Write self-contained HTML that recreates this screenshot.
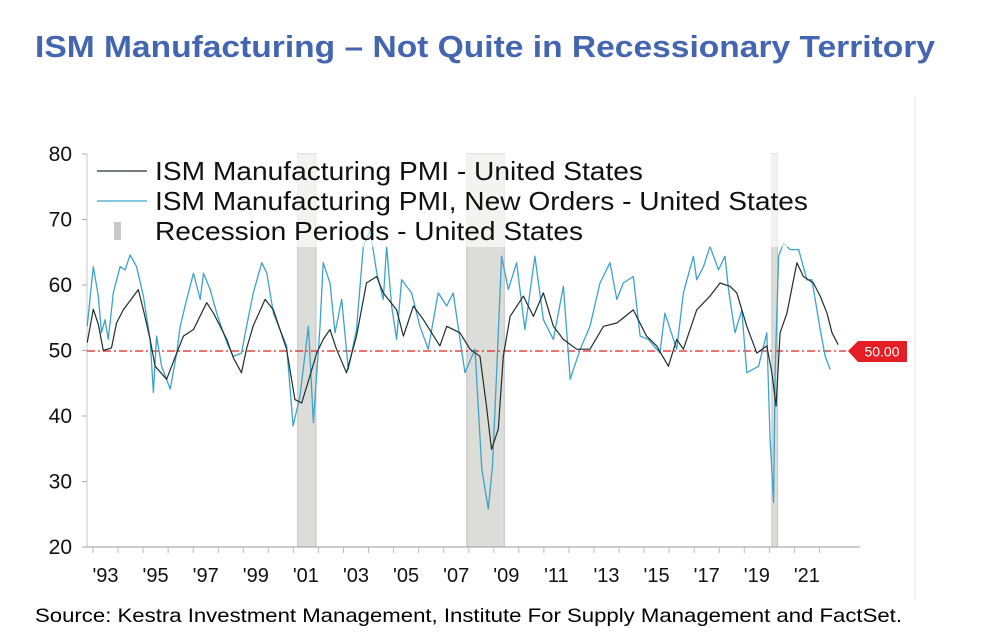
<!DOCTYPE html>
<html><head><meta charset="utf-8"><style>
body{margin:0;background:#fff;}
svg{display:block;font-family:"Liberation Sans",Arial,sans-serif;}
</style></head><body>
<svg id="chart" width="992" height="634" viewBox="0 0 992 634" xmlns="http://www.w3.org/2000/svg">
<text x="35" y="57" font-family="'Liberation Sans Narrow','Liberation Sans',sans-serif" font-weight="bold" font-size="31" fill="#4466b0" textLength="900" lengthAdjust="spacingAndGlyphs">ISM Manufacturing – Not Quite in Recessionary Territory</text>
<line x1="915" y1="96" x2="915" y2="600" stroke="#e6e6e6" stroke-width="1"/>
<g id="bands"></g>
<g id="axes"></g>
<line x1="87" y1="351" x2="846" y2="351" stroke="#e02020" stroke-width="1.2" stroke-dasharray="8,3,2,3"/>
<g id="series"></g>
<g>
<polygon points="848,351 858,341 907,341 907,362 858,362" fill="#e31e24"/>
<text x="882" y="356.5" font-size="14" fill="#fff" text-anchor="middle" font-family="'Liberation Sans',sans-serif">50.00</text>
</g>
<g>
<rect x="92" y="154" width="720" height="93" fill="#fff" opacity="0.65"/>
<line x1="97" y1="171" x2="147" y2="171" stroke="#1f2f2f" stroke-width="1.3"/>
<text x="155" y="180" font-size="26" fill="#111" textLength="488" lengthAdjust="spacingAndGlyphs">ISM Manufacturing PMI - United States</text>
<line x1="97" y1="201" x2="147" y2="201" stroke="#3ea3c8" stroke-width="1.3"/>
<text x="155" y="210" font-size="26" fill="#111" textLength="653" lengthAdjust="spacingAndGlyphs">ISM Manufacturing PMI, New Orders - United States</text>
<rect x="114" y="222" width="7" height="18" fill="#c8c8c8"/>
<text x="155" y="240" font-size="26" fill="#111" textLength="428" lengthAdjust="spacingAndGlyphs">Recession Periods - United States</text>
</g>
<text x="35" y="622" font-size="19.5" fill="#000" textLength="867" lengthAdjust="spacingAndGlyphs">Source: Kestra Investment Management, Institute For Supply Management and FactSet.</text>
</svg>
<script>
const yTicks=[20,30,40,50,60,70,80];
const xTickYears=[1993,1995,1997,1999,2001,2003,2005,2007,2009,2011,2013,2015,2017,2019,2021];
const xTickLabels=["'93","'95","'97","'99","'01","'03","'05","'07","'09","'11","'13","'15","'17","'19","'21"];
const recStart=[2001.17,2007.92,2020.1];
const recEnd=[2001.9,2009.42,2020.33];
const pmiDates=[1992.77,1993.01,1993.21,1993.41,1993.74,1993.94,1994.21,1994.81,1995.01,1995.28,1995.48,1995.94,1996.34,1996.61,1997.01,1997.54,1997.81,1998.34,1998.6,1998.93,1999.13,1999.4,1999.87,2000.2,2000.73,2001.06,2001.33,2001.66,2001.93,2002.19,2002.46,2002.72,2003.12,2003.52,2003.92,2004.32,2004.59,2005.12,2005.39,2005.79,2006.19,2006.85,2007.12,2007.65,2008.05,2008.45,2008.71,2008.91,2009.18,2009.38,2009.65,2010.18,2010.58,2010.98,2011.38,2011.78,2012.31,2012.84,2013.38,2013.91,2014.57,2015.1,2015.5,2015.97,2016.3,2016.57,2017.1,2017.63,2018.03,2018.43,2018.7,2019.1,2019.5,2019.9,2020.1,2020.27,2020.43,2020.7,2021.1,2021.36,2021.76,2022.03,2022.3,2022.5,2022.75];
const pmiValues=[51.2,56.3,54,50,50.4,54.2,56.2,59.3,56.2,51.7,47.6,45.6,49.6,52.2,53.2,57.3,55.7,51.7,48.9,46.6,50.3,53.8,57.8,56.2,50.2,42.5,42,46.1,49.6,51.7,53.2,50.2,46.6,52.2,60.3,61.3,58.8,56.2,52.2,56.8,54.7,50.7,53.7,52.7,50.2,49.1,41.5,34.9,38,49.1,55.2,58.3,55.2,58.8,53.7,51.7,50.2,50.2,53.7,54.2,56.2,52.2,50.7,47.6,51.7,50.2,56.2,58.3,60.3,59.8,58.8,53.7,49.6,50.7,46.6,41.5,52.7,55.7,63.4,61.3,60.3,58.3,55.7,52.7,50.9];
const noDates=[1992.77,1993.01,1993.21,1993.34,1993.48,1993.61,1993.81,1994.08,1994.28,1994.48,1994.74,1995.01,1995.28,1995.41,1995.54,1995.74,1996.08,1996.34,1996.48,1996.74,1997.01,1997.28,1997.41,1997.68,1997.94,1998.34,1998.6,1998.93,1999.13,1999.4,1999.74,1999.94,2000.2,2000.73,2000.99,2001.26,2001.6,2001.8,2002.06,2002.19,2002.46,2002.66,2002.93,2003.19,2003.52,2003.79,2004.06,2004.33,2004.59,2004.72,2004.92,2005.12,2005.32,2005.72,2006.05,2006.38,2006.78,2007.12,2007.38,2007.65,2007.85,2008.25,2008.52,2008.78,2008.95,2009.11,2009.31,2009.58,2009.91,2010.24,2010.64,2010.98,2011.38,2011.78,2012.05,2012.45,2012.84,2013.24,2013.64,2013.91,2014.17,2014.57,2014.84,2015.17,2015.63,2015.83,2016.3,2016.57,2016.97,2017.1,2017.37,2017.63,2017.97,2018.23,2018.37,2018.63,2018.9,2019.1,2019.57,2019.9,2020.03,2020.17,2020.23,2020.37,2020.57,2020.83,2021.17,2021.5,2021.7,2022.03,2022.23,2022.43,2022.75];
const noValues=[53.7,62.8,58.3,52.7,54.7,51.7,58.8,62.8,62.3,64.6,62.8,58.3,51.7,43.6,52.2,47.6,44.1,49.6,53.7,57.8,61.8,57.8,61.8,59.3,55.7,51.2,49.1,49.6,53.7,58.8,63.4,61.8,55.7,50.7,38.5,43,53.7,39,53.7,63.4,60.3,52.7,57.8,47.1,53.2,65.9,68.4,61.8,57.8,65.9,56.8,51.7,60.8,58.8,53.7,50.2,58.8,56.8,58.8,51.7,46.6,50.2,31.9,25.8,32.4,46.6,64.4,59.3,63.4,53.2,64.4,54.7,51.7,59.8,45.6,50.2,53.7,60.3,63.4,57.8,60.3,61.3,52.2,51.7,49.6,55.7,50.2,58.8,64.4,60.8,62.8,65.9,62.3,64.4,59.3,52.7,56.2,46.6,47.6,52.7,36.4,26.8,46.6,64.4,66.4,65.4,65.4,60.8,60.8,53.2,49.1,47.1];

const NS='http://www.w3.org/2000/svg';
const X0=87,X1=860,YT=154,YB=547;
function xs(yr){return 93+(yr-1993)*25.05;}
function ys(v){return YB-(v-20)*(YB-YT)/60;}
function mk(tag,attrs,parent){const e=document.createElementNS(NS,tag);for(const k in attrs)e.setAttribute(k,attrs[k]);parent.appendChild(e);return e;}

const bands=document.getElementById('bands');
for(let i=0;i<recStart.length;i++){
  const r=mk('rect',{x:xs(recStart[i]),y:ys(80),width:Math.max(3,xs(recEnd[i])-xs(recStart[i])),height:ys(20)-ys(80),fill:'#dcdcd8',stroke:'#c4c4c4','stroke-width':1},bands);
  
  
}
const axes=document.getElementById('axes');
const ya=mk('line',{x1:X0,y1:YT,x2:X0,y2:YB,stroke:'#c8c8c8'},axes);


const xa=mk('line',{x1:X0,y1:YB,x2:X1,y2:YB,stroke:'#999'},axes);


yTicks.forEach(v=>{
  mk('line',{x1:X0-5,y1:ys(v),x2:X0,y2:ys(v),stroke:'#aaa'},axes);
  const t=mk('text',{x:72,y:ys(v)+7,'font-size':21,'text-anchor':'end',fill:'#111'},axes);
  t.textContent=v;
  
  
});
for(let yr=1993;yr<=2022;yr++){mk('line',{x1:xs(yr),y1:YB,x2:xs(yr),y2:YB+6,stroke:'#bbb'},axes);}
xTickYears.forEach((yr,i)=>{
  const t=mk('text',{x:xs(yr)+12.5,y:582,'font-size':20,'text-anchor':'middle',fill:'#111'},axes);
  t.textContent=xTickLabels[i];
  
  
});
const sg=document.getElementById('series');
function path(d,v){return d.map((yr,i)=>(i?'L':'M')+xs(yr).toFixed(1)+','+ys(v[i]).toFixed(1)).join('');}
const pn=mk('path',{d:path(noDates,noValues),fill:'none',stroke:'#3ea3c8','stroke-width':1.3,'stroke-linejoin':'round'},sg);


const pp=mk('path',{d:path(pmiDates,pmiValues),fill:'none',stroke:'#1f2f2f','stroke-width':1.2,'stroke-linejoin':'round'},sg);


</script>
</body></html>
